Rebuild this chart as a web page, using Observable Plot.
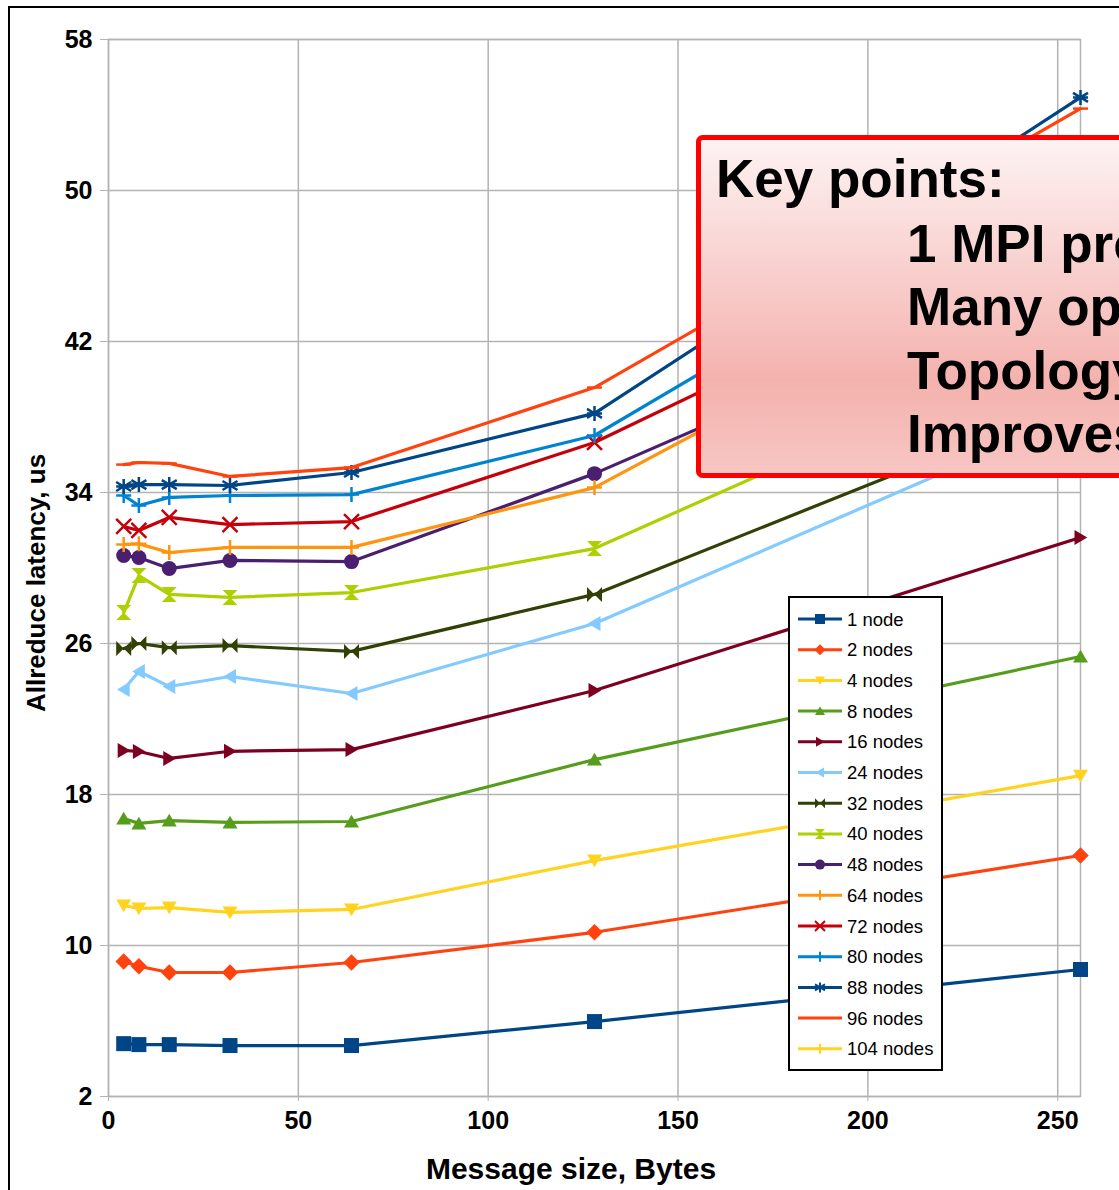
<!DOCTYPE html>
<html>
<head>
<meta charset="utf-8">
<script src="https://cdn.jsdelivr.net/npm/d3@7"></script>
<script src="https://cdn.jsdelivr.net/npm/@observablehq/plot@0.6"></script>
<style>
  body { margin: 0; background: #fff; }
  #wrap { position: relative; width: 1119px; height: 1190px; overflow: hidden; background: #fff; }
  #border { position: absolute; left: 8px; top: 6px; width: 1400px; height: 1400px;
            border-left: 2.5px solid #000; border-top: 2.5px solid #000; }
  #chart { position: absolute; left: 0; top: 0; }
  #overlay { position: absolute; left: 0; top: 0; }
</style>
</head>
<body>
<div id="wrap">
  <div id="border"></div>
  <div id="chart"></div>
  <svg id="overlay" width="1119" height="1190"></svg>
</div>
<script>
// ---- data ----
const sizes = [4, 8, 16, 32, 64, 128, 256];
const seriesNames = ["1 node", "2 nodes", "4 nodes", "8 nodes", "16 nodes", "24 nodes", "32 nodes",
  "40 nodes", "48 nodes", "64 nodes", "72 nodes", "80 nodes", "88 nodes", "96 nodes", "104 nodes"];
const lat1   = [4.8, 4.75, 4.75, 4.7, 4.7, 5.97, 8.73];
const lat2   = [9.15, 8.9, 8.57, 8.57, 9.1, 10.7, 14.77];
const lat4   = [12.12, 11.96, 12.01, 11.75, 11.91, 14.5, 19.0];
const lat8   = [16.73, 16.47, 16.62, 16.52, 16.57, 19.85, 25.31];
const lat16  = [20.33, 20.28, 19.91, 20.29, 20.38, 23.51, 31.62];
const lat24  = [23.56, 24.52, 23.72, 24.25, 23.35, 27.06, 38.2];
const lat32  = [25.73, 26.0, 25.78, 25.89, 25.58, 28.6, 38.9];
const lat40  = [27.64, 29.6, 28.6, 28.44, 28.7, 31.03, 42.5];
const lat48  = [30.66, 30.56, 29.97, 30.4, 30.34, 35.0, 46.2];
const lat64  = [31.25, 31.28, 30.82, 31.09, 31.09, 34.26, 48.0];
const lat72  = [32.2, 31.99, 32.68, 32.3, 32.46, 36.65, 49.0];
const lat80  = [33.84, 33.31, 33.74, 33.84, 33.89, 37.02, 52.2];
const lat88  = [34.32, 34.42, 34.42, 34.37, 35.06, 38.19, 54.93];
const lat96  = [35.48, 35.59, 35.54, 34.85, 35.32, 39.56, 54.34];
const lat104 = [];
const latencies = [lat1, lat2, lat4, lat8, lat16, lat24, lat32, lat40, lat48, lat64, lat72, lat80, lat88, lat96, lat104];
const colors = ["#004586", "#ff420e", "#ffd320", "#579d1c", "#7e0021", "#83caff", "#314004",
  "#aecf00", "#4b1f6f", "#ff950e", "#c5000b", "#0084d1", "#004586", "#ff420e", "#ffd320"];
const symbolNames = ["square", "diamond", "triDown", "triUp", "triRight", "triLeft", "bowtie",
  "hourglass", "circle", "plus", "cross", "plus", "asterisk", "dash", "plus"];
const xTicks = [0, 50, 100, 150, 200, 250];
const yTicks = [2, 10, 18, 26, 34, 42, 50, 58];
const xTitle = "Message size, Bytes";
const yTitle = "Allreduce latency, us";
const keyTitle = "Key points:";
const keyLines = ["1 MPI process per node", "Many operations", "Topology aware", "Improves scaling"];

// ---- custom marker symbols ----
const symbols = {
  square:   {filled: true, draw(c, s) { const h = Math.sqrt(s / Math.PI); c.rect(-h, -h, 2 * h, 2 * h); }},
  diamond:  {filled: true, draw(c, s) { const h = Math.sqrt(s / Math.PI) * 1.1; c.moveTo(0, -h); c.lineTo(h, 0); c.lineTo(0, h); c.lineTo(-h, 0); c.closePath(); }},
  triDown:  {filled: true, draw(c, s) { const h = Math.sqrt(s / Math.PI); c.moveTo(-h, -h * 0.8); c.lineTo(h, -h * 0.8); c.lineTo(0, h * 0.9); c.closePath(); }},
  triUp:    {filled: true, draw(c, s) { const h = Math.sqrt(s / Math.PI); c.moveTo(-h, h * 0.8); c.lineTo(h, h * 0.8); c.lineTo(0, -h * 0.9); c.closePath(); }},
  triRight: {filled: true, draw(c, s) { const h = Math.sqrt(s / Math.PI); c.moveTo(-h * 0.8, -h); c.lineTo(-h * 0.8, h); c.lineTo(h * 0.9, 0); c.closePath(); }},
  triLeft:  {filled: true, draw(c, s) { const h = Math.sqrt(s / Math.PI); c.moveTo(h * 0.8, -h); c.lineTo(h * 0.8, h); c.lineTo(-h * 0.9, 0); c.closePath(); }},
  bowtie:   {filled: true, draw(c, s) { const h = Math.sqrt(s / Math.PI); c.moveTo(-h, -h); c.lineTo(0, 0); c.lineTo(-h, h); c.closePath(); c.moveTo(h, -h); c.lineTo(0, 0); c.lineTo(h, h); c.closePath(); }},
  hourglass:{filled: true, draw(c, s) { const h = Math.sqrt(s / Math.PI); c.moveTo(-h, -h); c.lineTo(h, -h); c.lineTo(0, 0); c.closePath(); c.moveTo(-h, h); c.lineTo(h, h); c.lineTo(0, 0); c.closePath(); }},
  circle:   {filled: true, draw(c, s) { const h = Math.sqrt(s / Math.PI); c.moveTo(h, 0); c.arc(0, 0, h, 0, 2 * Math.PI); }},
  plus:     {filled: false, draw(c, s) { const h = Math.sqrt(s / Math.PI); c.moveTo(0, -h); c.lineTo(0, h); c.moveTo(-h, 0); c.lineTo(h, 0); }},
  cross:    {filled: false, draw(c, s) { const h = Math.sqrt(s / Math.PI); c.moveTo(-h, -h); c.lineTo(h, h); c.moveTo(-h, h); c.lineTo(h, -h); }},
  asterisk: {filled: false, draw(c, s) { const h = Math.sqrt(s / Math.PI); c.moveTo(0, -h); c.lineTo(0, h); c.moveTo(-h, -h * 0.6); c.lineTo(h, h * 0.6); c.moveTo(-h, h * 0.6); c.lineTo(h, -h * 0.6); c.moveTo(-h, 0); c.lineTo(h, 0); }},
  dash:     {filled: false, draw(c, s) { const h = Math.sqrt(s / Math.PI); c.moveTo(-h, 0); c.lineTo(h, 0); }}
};

// ---- build plot ----
const seriesMarks = [];
seriesNames.forEach((name, i) => {
  const rows = latencies[i].map((v, j) => ({series: name, size: sizes[j], latency: v}));
  if (!rows.length) return;
  const sym = symbols[symbolNames[i]];
  seriesMarks.push(Plot.line(rows, {x: "size", y: "latency", stroke: colors[i], strokeWidth: 3.2, strokeLinejoin: "round"}));
  seriesMarks.push(Plot.dot(rows, {
    x: "size", y: "latency", r: 7.5, symbol: sym,
    fill: sym.filled ? colors[i] : "none",
    stroke: sym.filled ? "none" : colors[i],
    strokeWidth: sym.filled ? 0 : 2.5
  }));
});

const chart = Plot.plot({
  width: 1119,
  height: 1190,
  marginLeft: 108,
  marginRight: 39,
  marginTop: 39,
  marginBottom: 94,
  style: {fontFamily: "'Liberation Sans', Arial, sans-serif", fontSize: "25px", fontWeight: "bold", color: "#000", background: "transparent", overflow: "visible"},
  x: {domain: [0, 256]},
  y: {domain: [2, 58]},
  marks: [
    Plot.gridX(xTicks, {stroke: "#b3b3b3", strokeOpacity: 1, strokeWidth: 1.5}),
    Plot.gridY(yTicks, {stroke: "#b3b3b3", strokeOpacity: 1, strokeWidth: 1.5}),
    Plot.frame({stroke: "#b3b3b3", strokeWidth: 1.5}),
    Plot.axisY({ticks: yTicks, tickSize: 8, tickPadding: 8, stroke: "#b3b3b3", fill: "#000",
      fontSize: 25, fontWeight: "bold", label: null}),
    Plot.axisX({ticks: xTicks, tickSize: 5, tickPadding: 10, stroke: "#b3b3b3", fill: "#000",
      fontSize: 25, fontWeight: "bold", label: null}),
    ...seriesMarks
  ]
});
document.getElementById("chart").appendChild(chart);

// ---- overlay: axis titles, legend, key points box ----
const svg = d3.select("#overlay");
const defs = svg.append("defs");
const grad = defs.append("linearGradient").attr("id", "keygrad").attr("x1", 0).attr("y1", 0).attr("x2", 0).attr("y2", 1);
grad.append("stop").attr("offset", "0%").attr("stop-color", "#fdf3f3");
grad.append("stop").attr("offset", "72%").attr("stop-color", "#f4b2ae");
grad.append("stop").attr("offset", "100%").attr("stop-color", "#f7c6c3");

const font = "'Liberation Sans', Arial, sans-serif";
svg.append("text").attr("x", 571).attr("y", 1179).attr("text-anchor", "middle")
  .attr("font-family", font).attr("font-weight", "bold").attr("font-size", 30).attr("fill", "#000").text(xTitle);
svg.append("text").attr("transform", "translate(45,583) rotate(-90)").attr("text-anchor", "middle")
  .attr("font-family", font).attr("font-weight", "bold").attr("font-size", 26).attr("fill", "#000").text(yTitle);

// legend
const lg = svg.append("g").attr("font-family", font).attr("font-size", 18.5);
lg.append("rect").attr("x", 789).attr("y", 597).attr("width", 153).attr("height", 473)
  .attr("fill", "#fff").attr("stroke", "#000").attr("stroke-width", 2);
seriesNames.forEach((name, i) => {
  const yy = 619 + i * 30.7;
  const g = lg.append("g").attr("transform", `translate(0,${yy})`);
  g.append("line").attr("x1", 798).attr("x2", 842).attr("y1", 0).attr("y2", 0)
    .attr("stroke", colors[i]).attr("stroke-width", 3);
  const sym = symbols[symbolNames[i]];
  if (symbolNames[i] !== "dash") {
    const p = d3.path();
    sym.draw(p, Math.PI * 5 * 5);
    g.append("path").attr("transform", "translate(820,0)").attr("d", p.toString())
      .attr("fill", sym.filled ? colors[i] : "none")
      .attr("stroke", sym.filled ? "none" : colors[i]).attr("stroke-width", 2);
  }
  g.append("text").attr("x", 847).attr("y", 6.5).attr("fill", "#000").text(name);
});

// key points box
const kg = svg.append("g").attr("font-family", font).attr("font-weight", "bold").attr("font-size", 53);
kg.append("rect").attr("x", 698.5).attr("y", 137.5).attr("width", 600).attr("height", 338).attr("rx", 4)
  .attr("fill", "url(#keygrad)").attr("stroke", "#ff0000").attr("stroke-width", 5);
kg.append("text").attr("x", 716).attr("y", 197).attr("fill", "#000").text(keyTitle);
keyLines.forEach((t, i) => {
  kg.append("text").attr("x", 907).attr("y", 262 + i * 63.4).attr("fill", "#000").text(t);
});
</script>
</body>
</html>
